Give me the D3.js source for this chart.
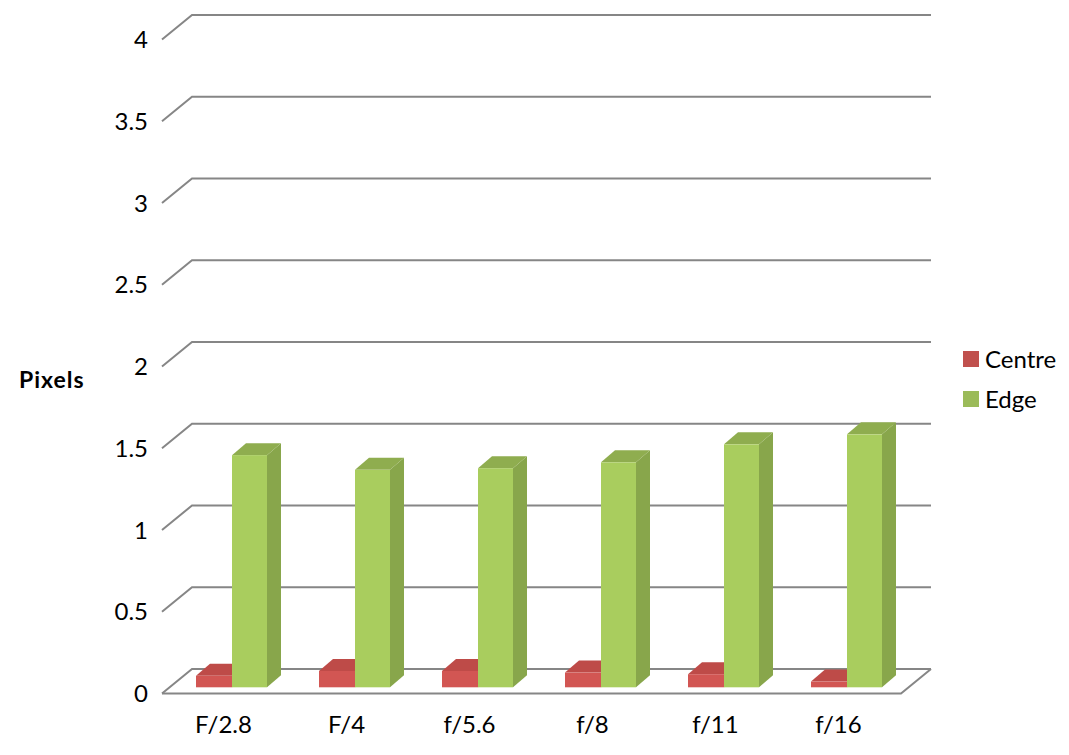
<!DOCTYPE html>
<html><head><meta charset="utf-8">
<script src="https://cdn.jsdelivr.net/npm/d3@7"></script>
<style>html,body{margin:0;background:#fff}svg{display:block}text{font-family:Lato,"Open Sans",sans-serif;fill:#000}</style>
</head><body><svg id="c" width="1069" height="755"></svg>
<script>
const categories=["F/2.8","F/4","f/5.6","f/8","f/11","f/16"];
const centre=[0.07,0.10,0.10,0.09,0.08,0.035];
const edge=[1.42,1.33,1.34,1.376,1.486,1.547];
const yTicks=[0,0.5,1,1.5,2,2.5,3,3.5,4];
const seriesNames=["Centre","Edge"];

const svg=d3.select("#c");
const x=d3.scaleBand().domain(categories).range([162,900]);
const y=d3.scaleLinear().domain([0,4]).range([693.5,39.5]);
const back={dx:30,dy:-24.5}, depth={dx:14,dy:-12}, lift=-6.2;
const GRID="#868686";

// walls & gridlines
const grid=svg.append("g").attr("fill","none").attr("stroke",GRID).attr("stroke-width",2);
grid.selectAll("path").data(yTicks).join("path")
  .attr("d",v=>{const a=y(v),p=d3.path();p.moveTo(162,a);p.lineTo(162+back.dx,a+back.dy);p.lineTo(901+back.dx,a+back.dy);return p.toString();});
const floor=d3.path();floor.moveTo(162,y(0));floor.lineTo(901,y(0));floor.lineTo(901+back.dx,y(0)+back.dy);
grid.append("path").attr("d",floor.toString());

// bars
function bar(g,x0,w,v,cols){
  const b=y(0)+lift,t=y(v)+lift;
  const poly=pts=>pts.map(p=>p.join(",")).join(" ");
  g.append("polygon").attr("fill",cols.side).attr("points",poly([[x0+w,t],[x0+w+depth.dx,t+depth.dy],[x0+w+depth.dx,b+depth.dy],[x0+w,b]]));
  g.append("polygon").attr("fill",cols.top).attr("points",poly([[x0,t],[x0+depth.dx,t+depth.dy],[x0+w+depth.dx,t+depth.dy],[x0+w,t]]));
  g.append("rect").attr("fill",cols.face).attr("x",x0).attr("y",t).attr("width",w).attr("height",b-t);
}
const colsC={face:"#D25653",top:"#BE4B48",side:"#A8423F"}, colsE={face:"#A9CD5E",top:"#8FAD4F",side:"#88A64B"};
const bars=svg.append("g");
categories.forEach((c,i)=>{
  const g=bars.append("g");
  bar(g,x(c)+34,36,centre[i],colsC);
  bar(g,x(c)+70,35,edge[i],colsE);
});

// axes
const fs="24px";
const ax=svg.append("g").attr("transform","translate(0,713)")
  .call(d3.axisBottom(x).tickSize(0).tickPadding(3));
ax.select(".domain").remove();
ax.selectAll("text").style("font-size",fs).style("font-family","Lato");
const ay=svg.append("g").attr("transform","translate(148,0.5)")
  .call(d3.axisLeft(y).tickValues(yTicks).tickSize(0).tickPadding(0).tickFormat(d=>String(d)));
ay.select(".domain").remove();
ay.selectAll("text").style("font-size",fs).style("font-family","Lato");

svg.append("text").text("Pixels").attr("x",19).attr("y",388).style("font-size","23px").style("font-weight",700).style("letter-spacing","1px");

// legend
const legColors=["#C0504D","#9BBB59"];
const leg=svg.append("g").selectAll("g").data(seriesNames).join("g").attr("transform",(d,i)=>`translate(963,${351+i*40})`);
leg.append("rect").attr("width",16).attr("height",16).attr("fill",(d,i)=>legColors[i]);
leg.append("text").text(d=>d).attr("x",22).attr("y",17).style("font-size",fs);
</script></body></html>
